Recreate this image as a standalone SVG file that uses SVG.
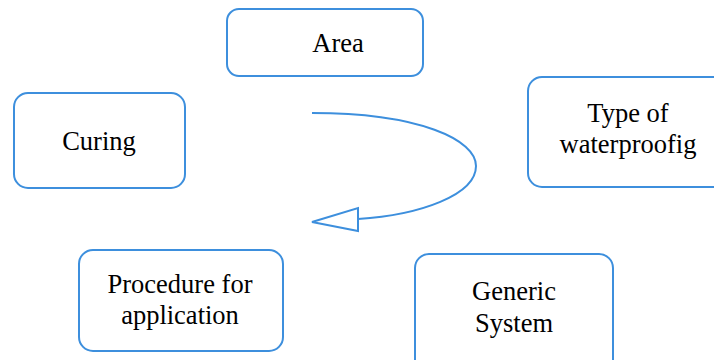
<svg xmlns="http://www.w3.org/2000/svg" width="714" height="360" viewBox="0 0 714 360">
<style>
.box{fill:#fff;stroke:#3d8fdd;stroke-width:2}
.t{font-family:'Liberation Serif','Times New Roman',serif;font-size:26.5px;fill:#000;text-anchor:middle}
.c{fill:none;stroke:#3d8fdd;stroke-width:2}
.h{fill:#fff;stroke:#3d8fdd;stroke-width:2;stroke-linejoin:miter}
</style>
<rect width="714" height="360" fill="#fff"/>
<g id="area"><rect class="box" x="227" y="9" width="196" height="67" rx="12"/><text class="t" x="338" y="52">Area</text></g>
<g id="curing"><rect class="box" x="14" y="93" width="171" height="95" rx="14"/><text class="t" x="99" y="150">Curing</text></g>
<g id="type"><rect class="box" x="528" y="77" width="200" height="110" rx="14"/><text class="t" x="628" y="122">Type of</text><text class="t" x="628" y="153">waterproofig</text></g>
<g id="procedure"><rect class="box" x="79" y="250" width="204" height="101" rx="14"/><text class="t" x="180" y="293">Procedure for</text><text class="t" x="180" y="324">application</text></g>
<g id="generic"><rect class="box" x="415" y="254" width="198" height="120" rx="14"/><text class="t" x="514" y="300">Generic</text><text class="t" x="514" y="332">System</text></g>
<g id="connectors">
<path class="c" d="M312,113 C420,113 476,140 476,166 C476,195 420,215 358,219"/>
<polygon class="h" points="358,208 358,231 312,222"/>
</g>
</svg>
